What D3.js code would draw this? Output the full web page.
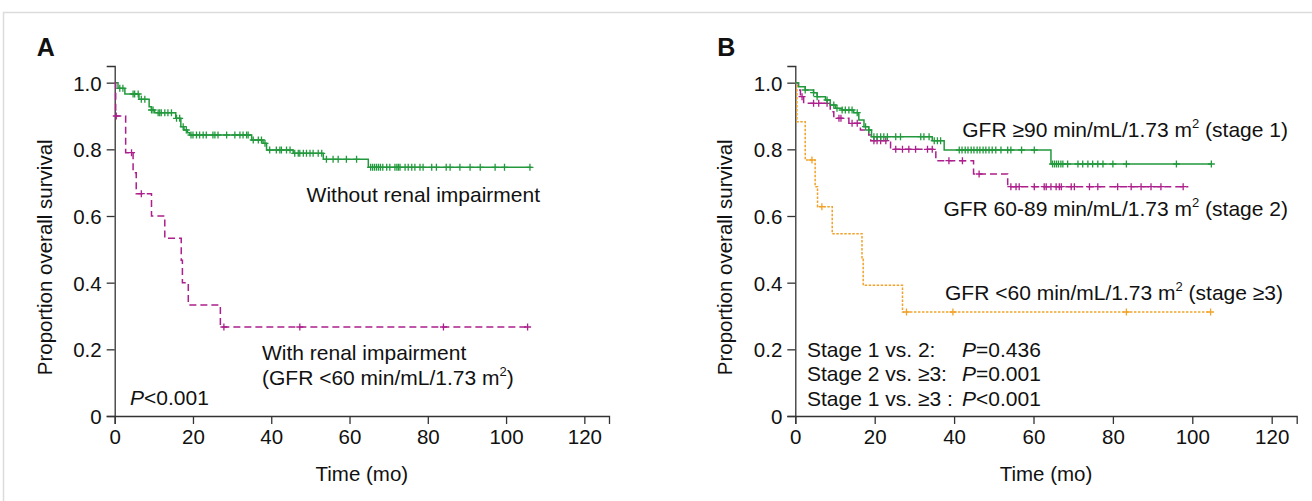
<!DOCTYPE html>
<html>
<head>
<meta charset="utf-8">
<script src="https://cdn.jsdelivr.net/npm/d3@7"></script>
<style>
  body { margin: 0; background: #fff; }
  svg text { font-family: "Liberation Sans", Arial, sans-serif; fill: #111; }
</style>
</head>
<body>
<div id="chart"></div>
<script>
const width = 1312;
const height = 501;

// tick values / labels
const xTicks = [0, 20, 40, 60, 80, 100, 120];
const yTicks = [0, 0.2, 0.4, 0.6, 0.8, 1.0];
const yTickLabels = ["0", "0.2", "0.4", "0.6", "0.8", "1.0"];

// Panel A - without renal impairment (step times, survival after step)
const aNoTimes = [0, 0.85, 2.6, 6.2, 8.8, 9.4, 10.2, 15.6, 16.9, 17.7, 18.6, 19.2, 35, 37.9, 38.8, 45.6, 53.3, 64.8];
const aNoSurv = [1, 0.983, 0.966, 0.95, 0.928, 0.918, 0.91, 0.893, 0.868, 0.858, 0.85, 0.843, 0.828, 0.818, 0.798, 0.788, 0.77, 0.746];
const aNoEnd = 106.5;
const aNoCensor = [1.3, 2.1, 4.7, 5.1, 6, 6.8, 7.7, 9.4, 9.8, 11.1, 11.5, 11.9, 12.8, 13.6, 14.5, 15.8, 16.6, 17.5, 18.3, 19.5, 20, 20.9, 21.7, 22.6, 23.4, 25.1, 25.6, 26.4, 28.6, 30.7, 32, 32.8, 33.7, 34.1, 35.4, 36.7, 37.5, 38.4, 39.6, 41.3, 42.2, 42.6, 43.9, 44.8, 46, 46.9, 47.3, 48.2, 49, 49.9, 50.7, 52, 52.9, 54.1, 55.8, 57.1, 59.2, 61.8, 65.4, 65.9, 66.4, 66.9, 67.4, 67.9, 68.5, 69.5, 70.3, 71.6, 72.1, 72.5, 72.9, 74.2, 75, 75.9, 76.7, 78, 78.8, 81, 82.2, 84.7, 85.7, 88.2, 90.8, 93.4, 97.2, 99.6, 106.1];

// Panel A - with renal impairment
const aImpTimes = [0, 0.25, 2.8, 4.7, 5.5, 9.4, 12.8, 17, 17.3, 18.8, 27];
const aImpSurv = [1, 0.9, 0.79, 0.73, 0.667, 0.6, 0.533, 0.467, 0.4, 0.333, 0.267];
const aImpEnd = 105.5;
const aImpCensor = [0.4, 4.3, 6.8, 27.9, 47.3, 84, 105.5];

// Panel B - stage 1
const bS1Times = [0, 0.8, 2.5, 4.6, 5.5, 7.6, 8.8, 10.1, 11.8, 14.7, 16, 17.3, 18.5, 19.2, 34.5, 37.5, 64.4];
const bS1Surv = [1, 0.988, 0.978, 0.97, 0.958, 0.948, 0.933, 0.923, 0.918, 0.91, 0.888, 0.868, 0.858, 0.838, 0.826, 0.798, 0.756];
const bS1End = 104.8;
const bS1Censor = [2.5, 4.6, 5.5, 8, 9.7, 10.5, 11.8, 12.6, 13.5, 14.3, 15.6, 17.7, 18.5, 19.8, 20.6, 21.5, 22.3, 23.2, 25.3, 26.5, 31.6, 32.4, 33.7, 35, 35.8, 36.6, 41.3, 42, 42.8, 43.5, 44.3, 45, 45.8, 46.5, 47.3, 48, 48.8, 49.6, 50.5, 51.8, 53.5, 54.3, 57, 60.2, 64.8, 65.3, 65.8, 66.3, 66.9, 67.4, 68.6, 71.2, 72.4, 73.7, 74.9, 76.2, 77.5, 80, 83.4, 96, 104.8];

// Panel B - stage 2
const bS2Times = [0, 0.8, 1.3, 2.1, 8.8, 9.7, 13.5, 16.4, 18.5, 19, 24, 35.4, 44.9, 53.5];
const bS2Surv = [1, 0.978, 0.958, 0.938, 0.913, 0.893, 0.878, 0.858, 0.843, 0.826, 0.8, 0.766, 0.726, 0.688];
const bS2End = 99;
const bS2Censor = [1.7, 4.6, 5.9, 8, 11, 11.5, 14.3, 15.6, 19.8, 20.6, 21.5, 22.8, 25.3, 27, 28.6, 30.3, 33.3, 34.5, 38.7, 42.1, 46.3, 54.3, 55.6, 56.4, 60.2, 62.7, 63.2, 64.4, 65.7, 66.5, 67, 69.5, 70.3, 74.1, 76.2, 81.2, 84.6, 87.1, 89.6, 92.1, 97.7];

// Panel B - stage >=3
const bS3Times = [0, 0.4, 2.5, 5, 5.6, 9.3, 16.8, 17.1, 27];
const bS3Surv = [1, 0.883, 0.768, 0.688, 0.628, 0.547, 0.47, 0.392, 0.312];
const bS3End = 104.6;
const bS3Censor = [4.2, 6.7, 28, 39.7, 83.4, 104.6];

const green = "#23993d";
const magenta = "#ac1f8c";
const orange = "#f2a22a";

const svg = d3.select("#chart")
  .append("svg")
  .attr("width", width)
  .attr("height", height);

// light frame
svg.append("rect")
  .attr("x", 3.5).attr("y", 12.5)
  .attr("width", 1330).attr("height", 520)
  .attr("fill", "none")
  .attr("stroke", "#dcdcdc")
  .attr("stroke-width", 1.5);

function stepAt(times, surv, t) {
  let s = surv[0];
  for (let i = 0; i < times.length; i++) if (times[i] <= t) s = surv[i];
  return s;
}

function panel(opts) {
  const x = d3.scaleLinear().domain([0, 126.3]).range([opts.x0, opts.x1]);
  const y = d3.scaleLinear().domain([0, 1.05]).range([416, 66]);
  const g = svg.append("g");

  // axes
  const xAxis = g.append("g")
    .attr("transform", `translate(0,${y(0)})`)
    .call(d3.axisBottom(x).tickValues(xTicks).tickSize(8).tickPadding(5));
  const yAxis = g.append("g")
    .attr("transform", `translate(${x(0)},0)`)
    .call(d3.axisLeft(y).tickValues(yTicks).tickSize(8).tickPadding(5)
      .tickFormat((d, i) => yTickLabels[i]));
  [xAxis, yAxis].forEach(a => {
    a.selectAll("path, line").attr("stroke", "#333").attr("stroke-width", 1.3);
    a.selectAll("text").style("font-size", "20.5px").attr("fill", "#111");
  });
  yAxis.selectAll("text").attr("dy", "0.36em");
  xAxis.selectAll("text").attr("dy", "0.72em");

  // curves
  const line = d3.line().curve(d3.curveStepAfter)
    .x(d => x(d[0])).y(d => y(d[1]));

  opts.series.forEach(s => {
    const pts = s.times.map((t, i) => [t, s.surv[i]]);
    pts.push([s.end, s.surv[s.surv.length - 1]]);
    g.append("path")
      .attr("d", line(pts))
      .attr("fill", "none")
      .attr("stroke", s.color)
      .attr("stroke-width", 1.5)
      .attr("stroke-dasharray", s.dash || null);

    g.append("g").selectAll("path")
      .data(s.censor)
      .join("path")
      .attr("d", t => {
        const cx = x(t), cy = y(stepAt(s.times, s.surv, t));
        return `M${cx - 3.5},${cy}H${cx + 3.5}M${cx},${cy - 3.5}V${cy + 3.5}`;
      })
      .attr("stroke", s.color)
      .attr("stroke-width", 1.3);
  });

  // titles
  svg.append("text")
    .attr("x", (opts.x0 + opts.x1) / 2).attr("y", 481)
    .attr("text-anchor", "middle")
    .style("font-size", "20.5px")
    .text("Time (mo)");
  svg.append("text")
    .attr("transform", `translate(${opts.x0 - 63},${y(0.5) + 8}) rotate(-90)`)
    .attr("text-anchor", "middle")
    .style("font-size", "20.5px")
    .text("Proportion overall survival");
  svg.append("text")
    .attr("x", opts.x0 - 78).attr("y", 56)
    .style("font-family", "'Liberation Sans Narrow', 'Liberation Sans', sans-serif")
    .style("font-weight", "bold")
    .style("font-size", "25px")
    .text(opts.label);
  return { g, x, y };
}

panel({
  label: "A", x0: 114.7, x1: 609,
  series: [
    { times: aNoTimes, surv: aNoSurv, end: aNoEnd, censor: aNoCensor, color: green },
    { times: aImpTimes, surv: aImpSurv, end: aImpEnd, censor: aImpCensor, color: magenta, dash: "7,4" }
  ]
});

panel({
  label: "B", x0: 795.3, x1: 1296.7,
  series: [
    { times: bS3Times, surv: bS3Surv, end: bS3End, censor: bS3Censor, color: orange, dash: "2.5,1.5" },
    { times: bS2Times, surv: bS2Surv, end: bS2End, censor: bS2Censor, color: magenta, dash: "7,4" },
    { times: bS1Times, surv: bS1Surv, end: bS1End, censor: bS1Censor, color: green }
  ]
});

const fs = "21px";
function addText(x, y, parts, anchor) {
  const t = svg.append("text").attr("x", x).attr("y", y)
    .attr("text-anchor", anchor || "start").style("font-size", fs);
  parts.forEach(p => {
    const ts = t.append("tspan").text(p.t);
    if (p.sup) ts.style("font-size", "13px").attr("dy", "-9");
    if (p.after) ts.attr("dy", "9");
    if (p.it) ts.style("font-style", "italic");
  });
  return t;
}

// Panel A annotations
addText(540, 202, [{ t: "Without renal impairment" }], "end");
addText(262, 360, [{ t: "With renal impairment" }]);
addText(262, 385, [{ t: "(GFR <60 min/mL/1.73 m" }, { t: "2", sup: true }, { t: ")", after: true }]);
addText(130, 405, [{ t: "P", it: true }, { t: "<0.001" }]);

// Panel B annotations
addText(1288, 137, [{ t: "GFR ≥90 min/mL/1.73 m" }, { t: "2", sup: true }, { t: " (stage 1)", after: true }], "end");
addText(1288, 216, [{ t: "GFR 60-89 min/mL/1.73 m" }, { t: "2", sup: true }, { t: " (stage 2)", after: true }], "end");
addText(1283, 300, [{ t: "GFR <60 min/mL/1.73 m" }, { t: "2", sup: true }, { t: " (stage ≥3)", after: true }], "end");

const stageLabels = ["Stage 1 vs. 2:", "Stage 2 vs. ≥3:", "Stage 1 vs. ≥3 :"];
const stageP = ["=0.436", "=0.001", "<0.001"];
stageLabels.forEach((s, i) => {
  addText(807, 357 + i * 24.3, [{ t: s }]);
  addText(962, 357 + i * 24.3, [{ t: "P", it: true }, { t: stageP[i] }]);
});
</script>
</body>
</html>
